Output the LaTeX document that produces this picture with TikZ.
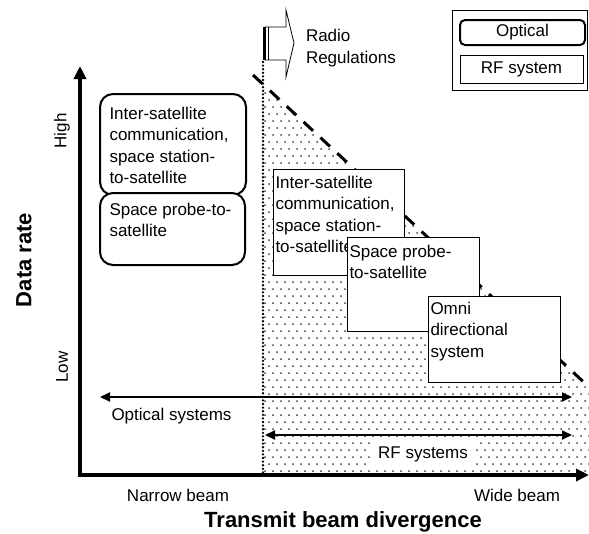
\documentclass[tikz,border=0pt]{standalone}
\usepackage{fontspec}
\setmainfont{Liberation Sans}
\usetikzlibrary{arrows.meta,calc}
\begin{document}
\begin{tikzpicture}[x=1pt,y=-1pt,
  txt/.style={font=\fontsize{17}{21.5}\selectfont, inner sep=0pt, outer sep=0pt},
  btxt/.style={font=\fontsize{22}{26}\selectfont\bfseries, inner sep=0pt},
  optbox/.style={draw, line width=2pt, rounded corners=13pt, fill=white, inner sep=0pt, outer sep=0pt},
  rfbox/.style={draw, line width=0.9pt, fill=white, inner sep=0pt, outer sep=0pt},
  spanline/.style={line width=2pt, {Triangle[length=10pt,width=9pt]}-{Triangle[length=10pt,width=9pt]}},
  stip/.style={fill=black!75},
]
\useasboundingbox (0,0) rectangle (589,533);

% stippled RF region
\begin{scope}
\clip (263,84) -- (589,387) -- (589,475) -- (263,475) -- cycle;
\foreach \j in {0,...,57} {
  \pgfmathsetmacro\off{mod(\j,2)*4}
  \foreach \i in {0,...,41} {
    \fill[stip] (265+\off+\i*8, 79+\j*7) circle (1.0);
  }
}
\end{scope}

% dotted boundary and dashed limit
\coordinate (dtop) at (263,62);
\coordinate (dbot) at (263,475);
\draw[line width=2.6pt, line cap=round, dash pattern=on 0pt off 3.6pt] (dtop) -- (dbot);
\coordinate (dashA) at (253,75);
\coordinate (dashB) at (589,387);
\draw[line width=3pt, dash pattern=on 13pt off 10pt] (dashA) -- (dashB);

% Radio Regulations arrow
\draw[line width=0.8pt, fill=white] (265,27) -- (286,27) -- (286,10) -- (294,43) -- (286,77) -- (286,60) -- (265,60) -- cycle;
\draw[line width=2.5pt] (264.5,27) -- (264.5,60);
\draw[line width=0.8pt] (268,27) -- (268,60);
\node[txt, anchor=west, align=left] (radio) at (306,48) {Radio\\Regulations};

% optical boxes (left)
\node[optbox, anchor=north west, minimum width=146pt, minimum height=101pt] (o1) at (100,94) {};
\node[txt, anchor=north west, align=left] (o1t) at (109.5,107) {Inter-satellite\\communication,\\space station-\\to-satellite};
\node[optbox, anchor=north west, minimum width=145pt, minimum height=72pt] (o2) at (100,193) {};
\node[txt, anchor=north west, align=left] (o2t) at (109.5,203) {Space probe-to-\\satellite};

% RF boxes (right)
\node[rfbox, anchor=north west, minimum width=131pt, minimum height=106pt] (ra) at (273,169) {};
\node[txt, anchor=north west, align=left] (rat) at (275.5,176) {Inter-satellite\\communication,\\space station-\\to-satellite};
\node[rfbox, anchor=north west, minimum width=132pt, minimum height=94pt] (rb) at (347,237) {};
\node[txt, anchor=north west, align=left] (rbt) at (349.5,245) {Space probe-\\to-satellite};
\node[rfbox, anchor=north west, minimum width=132pt, minimum height=86pt] (rc) at (428,296) {};
\node[txt, anchor=north west, align=left] (rct) at (430.5,302) {Omni\\directional\\system};

% legend
\node[rfbox, anchor=north west, minimum width=135.5pt, minimum height=80pt] (leg) at (452,10) {};
\node[optbox, rounded corners=5pt, minimum width=125pt, minimum height=25pt, txt] (legopt) at (522.5,32.5) {Optical};
\node[rfbox, minimum width=123pt, minimum height=28pt, txt] (legrf) at (521.5,69) {RF system};

% span arrows
\coordinate (optL) at (100,397);
\coordinate (optR) at (572,397);
\coordinate (rfL) at (265,435);
\coordinate (rfR) at (572,435);
\draw[spanline] (optL) -- (optR);
\draw[spanline] (rfL) -- (rfR);
\node[txt] (optlab) at (171.5,416) {Optical systems};
\node[txt, fill=white, inner xsep=7pt, inner ysep=4pt] (rflab) at (423,454) {RF systems};

% axes
\coordinate (ytop) at (80,66);
\coordinate (O) at (80,475);
\coordinate (xend) at (589,475);
\draw[line width=4pt, -{Triangle[length=13pt,width=12pt]}] (O) -- (ytop);
\draw[line width=4pt, -{Triangle[length=13pt,width=12pt]}] ($(O)+(-2,0)$) -- (xend);

% axis labels
\node[txt, rotate=90] (high) at (62,131) {High};
\node[txt, rotate=90] (low) at (62,367) {Low};
\node[btxt, rotate=90] (drate) at (24,260) {Data rate};
\node[txt] (narrow) at (178,495) {Narrow beam};
\node[txt] (wide) at (517,495) {Wide beam};
\node[btxt] (xlab) at (343,522) {Transmit beam divergence};
\end{tikzpicture}
\end{document}
